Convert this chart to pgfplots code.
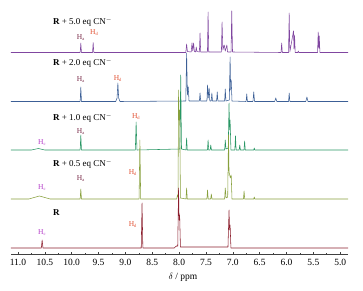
\documentclass[border=0pt]{standalone}
\usepackage{pgfplots}
\pgfplotsset{compat=1.18}
\usepackage{fontspec}
\setmainfont{Liberation Serif}
\definecolor{cpur}{RGB}{128,70,160}
\definecolor{cblu}{RGB}{60,95,150}
\definecolor{cgrn}{RGB}{40,150,100}
\definecolor{coli}{RGB}{135,160,60}
\definecolor{cred}{RGB}{140,30,45}
\definecolor{lHa}{RGB}{120,40,70}
\definecolor{lHd}{RGB}{225,80,50}
\definecolor{lHc}{RGB}{180,60,200}
\newcommand{\Hl}[2]{\textcolor{#1}{H\textsubscript{\fontsize{4.5}{5}\selectfont #2}}}
\begin{document}
\begin{tikzpicture}
\useasboundingbox (-11pt,-36pt) rectangle (352pt,254pt);
\begin{axis}[
  scale only axis, width=337pt, height=254pt,
  x dir=reverse, xmin=4.855, xmax=11.13, ymin=36, ymax=290,
  axis x line*=bottom, axis y line=none, ytick=\empty,
  xtick={5,5.5,6,6.5,7,7.5,8,8.5,9,9.5,10,10.5,11},
  minor x tick num=1,
  tick align=inside, major tick length=2.5pt, minor tick length=1.5pt,
  x axis line style={line width=1pt, black!75},
  every tick/.style={black!75, line width=0.6pt},
  xticklabel style={font=\fontsize{9.5}{10}\selectfont, anchor=base, yshift=-11pt},
  /pgf/number format/.cd, fixed, fixed zerofill, precision=1, assume math mode=true,
  /pgfplots/.cd,
  xlabel={\fontsize{9.5}{10}\selectfont$\delta$ / ppm},
  xlabel style={at={(axis description cs:0.51,0)}, anchor=center, yshift=-23pt},
  clip=false,
  every axis plot/.append style={line width=0.55pt, line join=round},
]
% R + 5.0 eq
\addplot[cpur] coordinates {
(11.13,237.5)
(9.842,237.5)(9.83,247)(9.818,237.5)
(9.612,237.5)(9.60,247.5)(9.588,237.5)
(7.875,237.5)(7.86,246)(7.845,238.5)
(7.775,238)(7.76,247)(7.745,239)(7.73,247)(7.715,238.5)
(7.692,238)(7.68,243)(7.668,238.5)
(7.622,238)(7.61,257)(7.598,238)
(7.472,238)(7.46,278)(7.448,238)
(7.212,238)(7.20,268)(7.185,240)(7.16,245)(7.14,239)(7.11,245)(7.098,238)
(7.032,238)(7.02,279)(7.005,238)
(6.102,237.5)(6.09,247)(6.078,237.5)
(5.962,237.5)(5.95,277)(5.938,238)(5.87,259)(5.86,241)(5.85,255)(5.838,237.5)
(5.79,237.5)(5.78,239)(5.77,237.5)
(5.422,237.5)(5.41,258)(5.40,242)(5.39,254)(5.378,237.5)
(4.855,237.5)
};
% R + 2.0 eq
\addplot[cblu] coordinates {
(11.13,188.5)
(9.842,188.5)(9.83,203)(9.818,188.5)
(9.18,188.5)(9.155,192)(9.14,207)(9.125,192)(9.10,188.5)
(7.875,189)(7.86,237)(7.845,195)(7.83,203)(7.815,189)
(7.622,189)(7.61,197)(7.598,189)
(7.482,189)(7.47,205)(7.458,192)(7.44,202)(7.428,189)
(7.402,189)(7.39,197)(7.378,189)
(7.302,189)(7.29,198)(7.278,189)
(7.152,189)(7.14,201)(7.128,189)
(7.065,190)(7.05,233)(7.04,200)(7.03,210)(7.015,189)
(6.752,188.5)(6.74,196)(6.728,188.5)
(6.625,188.5)(6.61,198)(6.595,188.5)
(6.22,188.5)(6.20,192)(6.18,188.5)
(5.962,188.5)(5.95,197)(5.938,188.5)
(5.64,188.5)(5.62,193)(5.60,188.5)
(4.855,188.5)
};
% R + 1.0 eq
\addplot[cgrn] coordinates {
(11.13,140)(10.75,140)(10.62,141.5)(10.50,140)
(9.842,140)(9.83,155)(9.818,140)
(8.815,140)(8.80,168)(8.785,140)
(7.985,141)(7.97,215)(7.955,141)
(7.872,140)(7.86,152)(7.848,140)
(7.472,140)(7.46,150)(7.448,140)
(7.422,140)(7.41,145)(7.398,140)
(7.152,140)(7.14,150)(7.128,141)(7.085,142)(7.07,187)(7.06,160)(7.05,170)(7.035,140)
(6.962,140)(6.95,154)(6.938,140)
(6.882,140)(6.87,145)(6.858,140)
(6.792,140)(6.78,149)(6.768,140)
(6.61,140)(6.60,142)(6.59,140)
(4.855,140)
};
% R + 0.5 eq
\addplot[coli] coordinates {
(11.13,91)(10.8,91)(10.7,92.5)(10.6,94)(10.5,92.5)(10.4,91)
(9.842,91)(9.83,101)(9.818,91)
(8.745,91)(8.73,150)(8.715,91)
(8.045,91)(8.03,95)(8.02,93)(8.01,200)(8.0,170)(7.99,180)(7.975,92)
(7.872,91)(7.86,102)(7.848,91)
(7.482,91)(7.47,100)(7.458,91)
(7.412,91)(7.40,96)(7.388,91)
(7.152,91)(7.14,102)(7.125,92)(7.095,93)(7.08,155)(7.07,118)(7.045,112)(7.03,115)(7.015,91)
(6.802,91)(6.79,99)(6.778,91)
(6.61,91)(6.60,93)(6.59,91)
(4.855,91)
};
% R
\addplot[cred] coordinates {
(11.13,42)(10.565,42)(10.55,50)(10.535,42)
(8.705,42)(8.69,87)(8.675,42)
(8.09,42)(8.05,44)(8.025,44)(8.01,102)(8.0,70)(7.99,75)(7.975,43)
(7.09,43)(7.07,80)(7.06,60)(7.05,65)(7.035,42)
(4.855,42)
};
% trace labels
\begin{scope}[every node/.style={font=\fontsize{9}{10}\selectfont, anchor=west, inner sep=0pt}]
\node at (axis cs:10.35,268) {\textbf{R} + 5.0 eq CN$^{-}$};
\node at (axis cs:10.35,227) {\textbf{R} + 2.0 eq CN$^{-}$};
\node at (axis cs:10.35,172) {\textbf{R} + 1.0 eq CN$^{-}$};
\node at (axis cs:10.35,126) {\textbf{R} + 0.5 eq CN$^{-}$};
\node at (axis cs:10.35,77) {\textbf{R}};
\end{scope}
% peak labels
\begin{scope}[every node/.style={font=\fontsize{7.5}{8}\selectfont, inner sep=0pt}]
\node at (axis cs:9.83,252) {\Hl{lHa}{a}};
\node at (axis cs:9.58,257) {\Hl{lHd}{d}};
\node at (axis cs:9.83,210) {\Hl{lHa}{a}};
\node at (axis cs:9.14,211) {\Hl{lHd}{d}};
\node at (axis cs:10.55,147) {\Hl{lHc}{c}};
\node at (axis cs:9.83,158) {\Hl{lHa}{a}};
\node at (axis cs:8.80,173) {\Hl{lHd}{d}};
\node at (axis cs:10.55,102) {\Hl{lHc}{c}};
\node at (axis cs:9.83,111) {\Hl{lHa}{a}};
\node at (axis cs:8.86,117) {\Hl{lHd}{d}};
\node at (axis cs:10.55,57) {\Hl{lHc}{c}};
\node at (axis cs:8.86,65) {\Hl{lHd}{d}};
\end{scope}
\end{axis}
\end{tikzpicture}
\end{document}
